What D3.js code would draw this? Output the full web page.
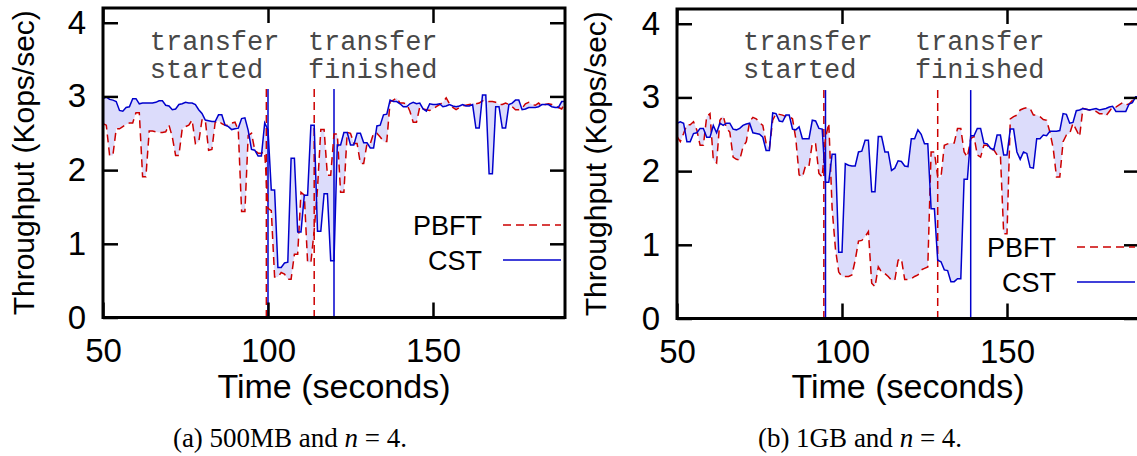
<!DOCTYPE html>
<html><head><meta charset="utf-8">
<script src="https://cdn.jsdelivr.net/npm/d3@7"></script>
<style>body{margin:0;background:#fff} svg{display:block}</style>
</head><body>
<svg id="c" width="1137" height="456"></svg>
<script>
// ---- data ----
const seconds = d3.range(50, 191);          // sample times (1 s apart)
const xTicks = [50, 100, 150];
const yTicks = [0, 1, 2, 3, 4];
const seriesNames = ["PBFT", "CST"];
const captionA = ["(a) 500MB and ", "n", " = 4."];
const captionB = ["(b) 1GB and ", "n", " = 4."];
const markerLabels = [["transfer", "started"], ["transfer", "finished"]];

// (a) 500MB
const cstA = [
2.97,2.99,2.96,2.95,2.93,2.81,2.80,2.85,2.86,2.97,
2.97,2.90,2.91,2.91,2.91,2.91,2.92,2.94,2.94,2.88,
2.87,2.82,2.83,2.89,2.90,2.92,2.91,2.91,2.89,2.82,
2.77,2.68,2.67,2.66,2.66,2.75,2.75,2.61,2.59,2.55,
2.56,2.57,2.70,2.71,2.54,2.28,2.27,2.19,2.19,2.64,
2.55,1.73,1.73,0.68,0.68,0.74,0.75,2.16,2.16,1.16,
1.16,1.66,1.66,2.61,2.61,1.17,1.17,1.68,1.68,0.77,
0.77,2.34,2.34,2.51,2.51,2.34,2.34,2.50,2.50,2.37,
2.37,2.30,2.30,2.60,2.61,2.75,2.76,2.95,2.93,2.93,
2.90,2.86,2.86,2.90,2.92,2.90,2.91,2.83,2.80,2.90,
2.89,2.89,2.90,2.86,2.87,2.89,2.87,2.86,2.87,2.89,
2.87,2.87,2.89,2.57,2.57,3.02,3.02,1.95,1.95,2.86,
2.86,2.57,2.57,2.89,2.91,2.95,2.95,2.82,2.83,2.85,
2.85,2.85,2.86,2.89,2.89,2.89,2.86,2.85,2.85,2.93,
2.93];
const pbftA = [
2.63,2.61,2.20,2.20,2.56,2.56,2.59,2.62,2.64,2.64,
2.78,2.78,1.91,1.91,2.53,2.53,2.52,2.51,2.51,2.52,
2.61,2.45,2.20,2.20,2.56,2.59,2.61,2.68,2.36,2.38,
2.68,2.68,2.27,2.28,2.65,2.67,2.63,2.61,2.61,2.64,
2.65,2.54,1.44,1.44,2.47,2.50,2.27,2.23,2.23,2.25,
1.48,1.45,0.55,0.55,0.61,0.59,0.52,0.52,0.86,0.86,
1.70,1.66,0.75,0.75,1.18,1.75,2.55,2.55,1.93,1.93,
2.49,2.49,1.70,1.70,2.51,2.50,2.36,2.36,2.09,2.09,
2.36,2.36,2.50,2.50,2.45,2.39,2.39,2.93,2.95,2.98,
2.91,2.91,2.90,2.80,2.65,2.65,2.86,2.83,2.82,2.81,
2.83,2.86,2.89,2.92,2.98,2.90,2.85,2.82,2.85,2.87,
2.88,2.89,2.90,2.90,2.91,2.94,2.94,2.93,2.93,2.92,
2.89,2.89,2.91,2.89,2.86,2.82,2.82,2.84,2.90,2.92,
2.89,2.88,2.91,2.87,2.89,2.90,2.89,2.87,2.85,2.83,
2.91];
const markersA = {pbftStart: 99.5, cstStart: 100, pbftEnd: 114, cstEnd: 120};

// (b) 1GB
const cstB = [
2.65,2.67,2.65,2.40,2.40,2.51,2.52,2.58,2.58,2.46,
2.46,2.62,2.52,2.65,2.62,2.65,2.65,2.57,2.56,2.58,
2.62,2.64,2.65,2.52,2.51,2.50,2.46,2.28,2.28,2.79,
2.78,2.68,2.67,2.76,2.76,2.57,2.56,2.60,2.44,2.44,
2.44,2.69,2.68,2.58,2.57,1.85,1.85,2.23,2.23,0.90,
0.90,2.10,2.08,2.07,2.07,2.26,2.27,2.42,2.42,1.72,
1.72,2.47,2.47,2.26,2.26,2.01,2.04,2.14,2.13,2.07,
2.06,2.44,2.44,2.56,2.50,2.37,2.37,1.49,1.49,0.79,
0.77,0.66,0.65,0.50,0.50,0.54,0.54,1.89,1.89,2.48,
2.48,2.58,2.58,2.38,2.37,2.31,2.29,2.49,2.49,2.22,
2.22,2.57,2.57,2.26,2.16,2.26,2.24,2.05,2.04,2.44,
2.44,2.49,2.48,2.54,2.54,2.54,2.55,2.78,2.77,2.65,
2.66,2.82,2.83,2.85,2.84,2.83,2.84,2.85,2.83,2.84,
2.85,2.87,2.88,2.81,2.81,2.81,2.81,2.91,2.93,3.01,
3.01];
const pbftB = [
2.47,2.40,2.51,2.63,2.63,2.67,2.56,2.35,2.35,2.74,
2.78,2.15,2.11,2.69,2.75,2.58,2.53,2.19,2.16,2.15,
2.33,2.40,2.67,2.73,2.71,2.66,2.62,2.38,2.31,2.69,
2.78,2.77,2.76,2.74,2.74,2.71,2.44,1.95,1.92,2.08,
2.07,2.38,2.37,1.97,1.92,2.45,2.65,1.50,0.95,0.63,
0.57,0.57,0.57,0.59,0.79,1.05,1.06,1.11,1.18,0.48,
0.43,0.70,0.63,0.61,0.57,0.52,0.52,0.79,0.81,0.53,
0.53,0.54,0.57,0.59,0.66,0.68,0.70,2.26,2.26,1.92,
1.92,2.35,2.37,2.38,2.38,2.58,2.58,2.26,2.19,2.44,
2.47,2.22,2.19,2.35,2.35,2.29,2.29,2.22,2.22,1.15,
1.15,2.71,2.74,2.76,2.83,2.85,2.86,2.85,2.76,2.76,
2.74,2.70,2.69,2.53,2.31,1.92,1.92,2.40,2.49,2.51,
2.65,2.56,2.47,2.85,2.84,2.83,2.82,2.81,2.78,2.78,
2.75,2.81,2.87,2.87,2.90,2.93,2.90,2.91,2.96,2.97,
2.98];
const markersB = {pbftStart: 94.5, cstStart: 95, pbftEnd: 129, cstEnd: 139};

// ---- drawing ----
const RED = "#cc0000", BLUE = "#0000cc", FILL = "#dcdcfb";
const DASH = "8,5";
const svg = d3.select("#c");

function panel(o) {
  const x = d3.scaleLinear().domain([50, 190]).range([o.x0, o.x0 + 462]);
  const y = d3.scaleLinear().domain([0, 4.2]).range([o.bottom, o.top]);
  const rows = seconds.map((t, i) => ({t, p: o.pbft[i], c: o.cst[i]}));
  const g = svg.append("g");

  g.append("path").datum(rows)
    .attr("fill", FILL)
    .attr("d", d3.area().x(d => x(d.t)).y0(d => y(d.p)).y1(d => y(d.c)));

  // markers
  const mTop = 3.1;
  [[o.markers.pbftStart, RED, DASH], [o.markers.cstStart, BLUE, null],
   [o.markers.pbftEnd, RED, DASH], [o.markers.cstEnd, BLUE, null]].forEach(([t, col, dash]) => {
    g.append("line").attr("x1", x(t)).attr("x2", x(t)).attr("y1", y(mTop)).attr("y2", y(0))
      .attr("stroke", col).attr("stroke-width", 1.5).attr("stroke-dasharray", dash);
  });

  g.append("path").datum(rows).attr("fill", "none").attr("stroke", RED)
    .attr("stroke-width", 1.5).attr("stroke-dasharray", DASH)
    .attr("d", d3.line().x(d => x(d.t)).y(d => y(d.p)));
  g.append("path").datum(rows).attr("fill", "none").attr("stroke", BLUE)
    .attr("stroke-width", 1.5)
    .attr("d", d3.line().x(d => x(d.t)).y(d => y(d.c)));

  // annotations
  markerLabels.forEach((lines, k) => {
    lines.forEach((s, j) => g.append("text").attr("x", x(o.annT[k])).attr("y", 50 + j * 28)
      .attr("font-family", "Liberation Mono, monospace").attr("font-size", 27)
      .attr("fill", "#484848").text(s));
  });

  // axes
  const font = "Liberation Sans, Arial, sans-serif";
  const styleAxis = sel => {
    sel.select(".domain").remove();
    sel.selectAll(".tick line").attr("stroke", "#000").attr("stroke-width", 2.5);
    sel.selectAll("text").attr("font-family", font).attr("font-size", 33).attr("fill", "#000");
  };
  g.append("g").attr("transform", `translate(0,${o.bottom})`)
    .call(d3.axisBottom(x).tickValues(xTicks).tickSize(-15).tickPadding(21).tickFormat(d3.format("d"))).call(styleAxis);
  g.append("g").attr("transform", `translate(0,${o.top})`)
    .call(d3.axisTop(x).tickValues(xTicks).tickSize(-15).tickFormat("")).call(styleAxis);
  g.append("g").attr("transform", `translate(${o.x0},0)`)
    .call(d3.axisLeft(y).tickValues(yTicks).tickSize(-15).tickPadding(17).tickFormat(d3.format("d"))).call(styleAxis);
  g.append("g").attr("transform", `translate(${o.x0 + 462},0)`)
    .call(d3.axisRight(y).tickValues(yTicks).tickSize(-15).tickFormat("")).call(styleAxis);

  g.append("rect").attr("x", o.x0).attr("y", o.top).attr("width", 462).attr("height", o.bottom - o.top)
    .attr("fill", "none").attr("stroke", "#000").attr("stroke-width", 3);

  // axis titles
  g.append("text").attr("x", o.x0 + 231).attr("y", 398).attr("text-anchor", "middle")
    .attr("font-family", font).attr("font-size", 34).text("Time (seconds)");
  g.append("text").attr("transform", `translate(${o.yTitleX},${(o.top + o.bottom) / 2}) rotate(-90)`)
    .attr("text-anchor", "middle").attr("font-family", font).attr("font-size", 30)
    .text("Throughput (Kops/sec)");

  // legend
  const lx = o.x0 + 462;
  [[seriesNames[0], RED, DASH, o.legY], [seriesNames[1], BLUE, null, o.legY + 35]].forEach(([nm, col, dash, ly]) => {
    g.append("text").attr("x", lx - 83).attr("y", ly + 10).attr("text-anchor", "end")
      .attr("font-family", font).attr("font-size", 27).text(nm);
    g.append("line").attr("x1", lx - 62).attr("x2", lx - 4).attr("y1", ly).attr("y2", ly)
      .attr("stroke", col).attr("stroke-width", 1.5).attr("stroke-dasharray", dash);
  });

  // caption
  const cap = g.append("text").attr("x", o.capX).attr("y", 447).attr("text-anchor", "middle")
    .attr("font-family", "Liberation Serif, Times New Roman, serif").attr("font-size", 27);
  o.caption.forEach((s, j) => cap.append("tspan").attr("font-style", j === 1 ? "italic" : null).text(s));
}

panel({x0: 103, top: 8, bottom: 317.5, cst: cstA, pbft: pbftA, markers: markersA,
       annT: [64.2, 112.1], yTitleX: 34, legY: 225, capX: 290, caption: captionA});
panel({x0: 677, top: 9, bottom: 318.5, cst: cstB, pbft: pbftB, markers: markersB,
       annT: [70.0, 122.1], yTitleX: 606, legY: 247, capX: 860, caption: captionB});
</script>
</body></html>
